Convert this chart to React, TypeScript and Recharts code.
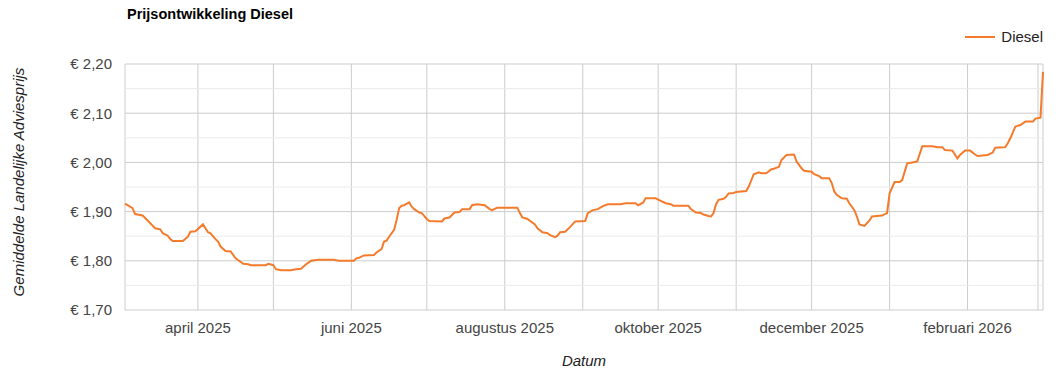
import { LineChart, Line, XAxis, YAxis, CartesianGrid, ReferenceLine, Label } from 'recharts';

// prices (daily Dutch diesel advice price), breakpoints only
const dates = [
  '2025-03-03', '2025-03-06', '2025-03-07', '2025-03-10', '2025-03-12', '2025-03-15', '2025-03-17', '2025-03-18',
  '2025-03-20', '2025-03-21', '2025-03-22', '2025-03-26', '2025-03-28', '2025-03-29', '2025-03-31', '2025-04-03',
  '2025-04-05', '2025-04-06', '2025-04-08', '2025-04-09', '2025-04-10', '2025-04-12', '2025-04-14', '2025-04-16',
  '2025-04-19', '2025-04-21', '2025-04-22', '2025-04-28', '2025-04-29', '2025-05-01', '2025-05-02', '2025-05-04',
  '2025-05-08', '2025-05-10', '2025-05-12', '2025-05-14', '2025-05-16', '2025-05-19', '2025-05-25', '2025-05-27',
  '2025-06-02', '2025-06-03', '2025-06-04', '2025-06-06', '2025-06-10', '2025-06-11', '2025-06-13', '2025-06-14',
  '2025-06-15', '2025-06-16', '2025-06-18', '2025-06-19', '2025-06-20', '2025-06-21', '2025-06-22', '2025-06-24',
  '2025-06-25', '2025-06-26', '2025-06-28', '2025-06-29', '2025-07-01', '2025-07-02', '2025-07-07', '2025-07-08',
  '2025-07-10', '2025-07-12', '2025-07-14', '2025-07-15', '2025-07-18', '2025-07-19', '2025-07-21', '2025-07-24',
  '2025-07-26', '2025-07-27', '2025-07-29', '2025-08-06', '2025-08-07', '2025-08-08', '2025-08-10', '2025-08-13',
  '2025-08-14', '2025-08-16', '2025-08-18', '2025-08-19', '2025-08-21', '2025-08-22', '2025-08-23', '2025-08-25',
  '2025-08-27', '2025-08-29', '2025-09-02', '2025-09-03', '2025-09-05', '2025-09-07', '2025-09-09', '2025-09-11',
  '2025-09-16', '2025-09-18', '2025-09-22', '2025-09-23', '2025-09-25', '2025-09-26', '2025-09-30', '2025-10-02',
  '2025-10-04', '2025-10-06', '2025-10-07', '2025-10-13', '2025-10-14', '2025-10-16', '2025-10-18', '2025-10-19',
  '2025-10-21', '2025-10-22', '2025-10-23', '2025-10-24', '2025-10-25', '2025-10-27', '2025-10-28', '2025-10-29',
  '2025-10-31', '2025-11-01', '2025-11-05', '2025-11-06', '2025-11-08', '2025-11-10', '2025-11-11', '2025-11-13',
  '2025-11-15', '2025-11-16', '2025-11-18', '2025-11-19', '2025-11-21', '2025-11-24', '2025-11-25', '2025-11-26',
  '2025-11-27', '2025-11-28', '2025-12-01', '2025-12-02', '2025-12-04', '2025-12-05', '2025-12-08', '2025-12-09',
  '2025-12-10', '2025-12-11', '2025-12-13', '2025-12-15', '2025-12-16', '2025-12-18', '2025-12-19', '2025-12-20',
  '2025-12-22', '2025-12-24', '2025-12-25', '2025-12-27', '2025-12-29', '2025-12-31', '2026-01-01', '2026-01-03',
  '2026-01-05', '2026-01-06', '2026-01-08', '2026-01-10', '2026-01-12', '2026-01-14', '2026-01-18', '2026-01-20',
  '2026-01-22', '2026-01-23', '2026-01-26', '2026-01-28', '2026-01-29', '2026-01-31', '2026-02-02', '2026-02-04',
  '2026-02-05', '2026-02-09', '2026-02-11', '2026-02-12', '2026-02-16', '2026-02-17', '2026-02-18', '2026-02-20',
  '2026-02-22', '2026-02-24', '2026-02-27', '2026-02-28', '2026-03-02', '2026-03-03',
];

const diesel = [
  1.916, 1.907, 1.895, 1.892, 1.882, 1.866, 1.864, 1.856,
  1.851, 1.844, 1.840, 1.840, 1.849, 1.859, 1.860, 1.874,
  1.858, 1.856, 1.844, 1.839, 1.829, 1.820, 1.819, 1.805,
  1.794, 1.793, 1.791, 1.791, 1.794, 1.791, 1.783, 1.781,
  1.781, 1.783, 1.784, 1.793, 1.800, 1.802, 1.802, 1.800,
  1.800, 1.805, 1.806, 1.811, 1.812, 1.817, 1.824, 1.839,
  1.841, 1.849, 1.863, 1.883, 1.907, 1.912, 1.913, 1.919,
  1.910, 1.905, 1.898, 1.897, 1.885, 1.881, 1.880, 1.886,
  1.888, 1.898, 1.899, 1.905, 1.905, 1.913, 1.915, 1.913,
  1.905, 1.903, 1.908, 1.908, 1.897, 1.888, 1.885, 1.874,
  1.866, 1.858, 1.856, 1.852, 1.848, 1.851, 1.858, 1.859,
  1.869, 1.880, 1.881, 1.897, 1.903, 1.905, 1.911, 1.915,
  1.915, 1.917, 1.917, 1.913, 1.918, 1.927, 1.927, 1.922,
  1.917, 1.915, 1.912, 1.912, 1.905, 1.898, 1.897, 1.894,
  1.891, 1.890, 1.897, 1.915, 1.924, 1.926, 1.930, 1.937,
  1.938, 1.940, 1.942, 1.951, 1.976, 1.980, 1.978, 1.978,
  1.986, 1.987, 1.991, 2.005, 2.015, 2.016, 2.002, 1.995,
  1.988, 1.983, 1.981, 1.976, 1.972, 1.968, 1.968, 1.958,
  1.941, 1.934, 1.927, 1.926, 1.917, 1.903, 1.890, 1.874,
  1.871, 1.882, 1.890, 1.891, 1.892, 1.897, 1.937, 1.960,
  1.960, 1.964, 1.998, 2.000, 2.002, 2.033, 2.033, 2.031,
  2.031, 2.025, 2.024, 2.008, 2.015, 2.024, 2.024, 2.016,
  2.013, 2.015, 2.020, 2.030, 2.031, 2.039, 2.049, 2.073,
  2.076, 2.083, 2.083, 2.089, 2.091, 2.184,
];

const monthNames = ['januari', 'februari', 'maart', 'april', 'mei', 'juni', 'juli', 'augustus', 'september', 'oktober', 'november', 'december'];
const monthTicks = [
  '2025-04-01', '2025-05-01', '2025-06-01', '2025-07-01', '2025-08-01', '2025-09-01',
  '2025-10-01', '2025-11-01', '2025-12-01', '2026-01-01', '2026-02-01', '2026-03-01',
];
const labelledMonths = [3, 5, 7, 9, 11, 1];
const yTicks = [1.7, 1.8, 1.9, 2.0, 2.1, 2.2];
const yMinor = [1.75, 1.85, 1.95, 2.05, 2.15];
const xStart = '2025-03-03';
const xEnd = '2026-03-03';

const toTime = (d: string) => Date.parse(d + 'T00:00:00Z');

const data = dates.map((d, i) => ({ t: toTime(d), diesel: diesel[i] }));

const font = "Arial, 'Liberation Sans', sans-serif";
const orange = '#f47b2c';

const fmtMonth = (t: number) => {
  const d = new Date(t);
  const m = d.getUTCMonth();
  return labelledMonths.includes(m) ? `${monthNames[m]} ${d.getUTCFullYear()}` : '';
};

const fmtPrice = (v: number) => '€ ' + v.toFixed(2).replace('.', ',');

export default function App() {
  return (
    <div style={{ position: 'absolute', left: 0, top: 0, width: 1058, height: 373, background: '#fff', fontFamily: font }}>
      <div style={{ position: 'absolute', left: 127, top: 6, fontSize: 14.5, fontWeight: 'bold', color: '#000' }}>
        Prijsontwikkeling Diesel
      </div>
      <div style={{ position: 'absolute', right: 15, top: 28, display: 'flex', alignItems: 'center', fontSize: 15, color: '#222' }}>
        <span style={{ display: 'inline-block', width: 30, height: 2, background: orange, marginRight: 6 }} />
        Diesel
      </div>
      <LineChart width={1058} height={373} data={data} margin={{ top: 64, right: 15, bottom: 3, left: 0 }}>
        <CartesianGrid stroke="#cccccc" />
        {yMinor.map((v) => (
          <ReferenceLine key={v} y={v} stroke="#ebebeb" />
        ))}
        <XAxis
          dataKey="t"
          type="number"
          domain={[toTime(xStart), toTime(xEnd)]}
          ticks={monthTicks.map(toTime)}
          tickFormatter={fmtMonth}
          interval={0}
          height={60}
          axisLine={false}
          tickLine={false}
          tickSize={0}
          tickMargin={12}
          tick={{ fill: '#444', fontSize: 15, fontFamily: font }}
        >
          <Label
            content={(props: any) => {
              const vb = props.viewBox || { x: 125, width: 918, y: 310 };
              return (
                <text x={vb.x + vb.width / 2} y={vb.y + 50} textAnchor="middle" dominantBaseline="central"
                  fontStyle="italic" fontSize={15} fill="#222" fontFamily={font}>
                  Datum
                </text>
              );
            }}
          />
        </XAxis>
        <YAxis
          type="number"
          domain={[1.7, 2.2]}
          ticks={yTicks}
          tickFormatter={fmtPrice}
          width={125}
          axisLine={false}
          tickLine={false}
          tickSize={0}
          tickMargin={13}
          tick={{ fill: '#444', fontSize: 15, fontFamily: font }}
        >
          <Label
            content={(props: any) => {
              const vb = props.viewBox || { y: 64, height: 246 };
              const cy = vb.y + vb.height / 2 - 5;
              return (
                <text x={18} y={cy} transform={`rotate(-90, 18, ${cy})`} textAnchor="middle" dominantBaseline="central"
                  fontStyle="italic" fontSize={15} fill="#222" fontFamily={font}>
                  Gemiddelde Landelijke Adviesprijs
                </text>
              );
            }}
          />
        </YAxis>
        <Line type="linear" dataKey="diesel" stroke={orange} strokeWidth={2} dot={false} isAnimationActive={false} />
      </LineChart>
    </div>
  );
}
